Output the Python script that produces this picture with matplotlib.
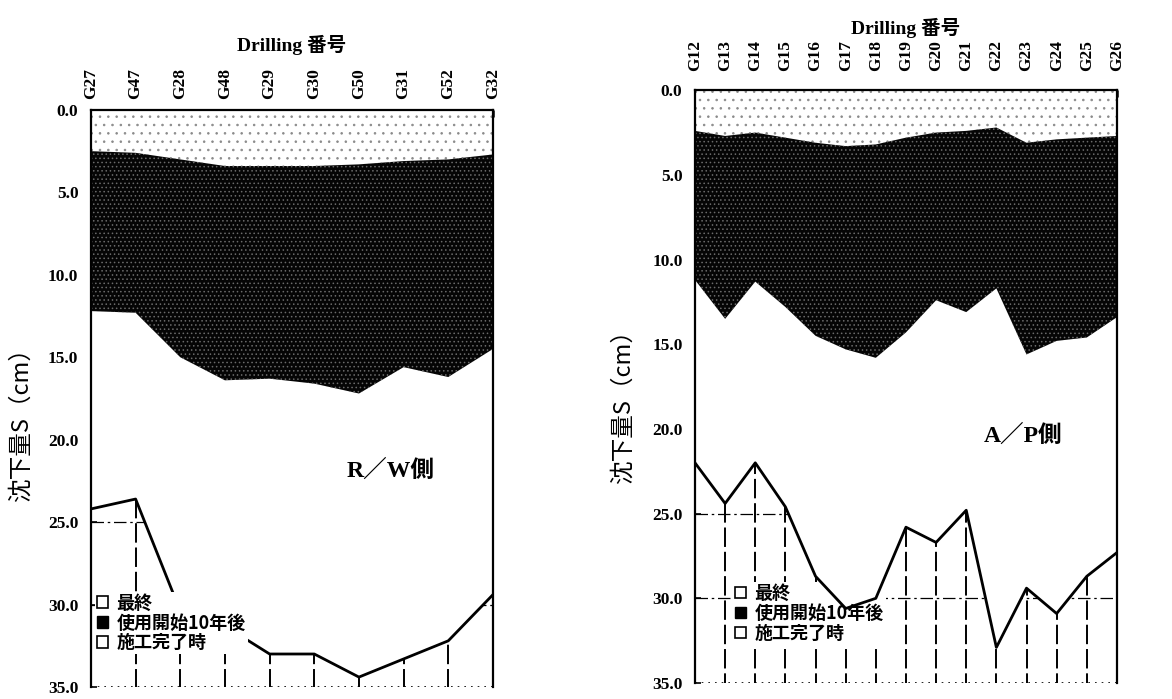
import matplotlib
matplotlib.use('Agg')
import matplotlib.pyplot as plt
from matplotlib.patches import Patch
import numpy as np

plt.rcParams['font.family'] = ['Liberation Serif', 'Noto Sans CJK JP']
plt.rcParams['hatch.linewidth'] = 0.6

# R/W side drilling holes and settlement (cm)
rw_holes = ['G27', 'G47', 'G28', 'G48', 'G29', 'G30', 'G50', 'G31', 'G52', 'G32']
rw_complete = [2.5, 2.6, 3.0, 3.4, 3.4, 3.4, 3.3, 3.1, 3.0, 2.7]
rw_10years = [12.2, 12.3, 15.0, 16.4, 16.3, 16.6, 17.2, 15.6, 16.2, 14.5]
rw_final = [24.2, 23.6, 30.4, 31.3, 33.0, 33.0, 34.4, 33.3, 32.2, 29.4]

# A/P side
ap_holes = ['G12', 'G13', 'G14', 'G15', 'G16', 'G17', 'G18', 'G19',
            'G20', 'G21', 'G22', 'G23', 'G24', 'G25', 'G26']
ap_complete = [2.4, 2.7, 2.5, 2.8, 3.1, 3.3, 3.2, 2.8, 2.5, 2.4, 2.2, 3.1, 2.9, 2.8, 2.7]
ap_10years = [11.2, 13.5, 11.3, 12.8, 14.5, 15.3, 15.8, 14.3, 12.4, 13.1, 11.7, 15.6, 14.8, 14.6, 13.4]
ap_final = [22.0, 24.4, 22.0, 24.6, 28.7, 30.6, 30.0, 25.8, 26.7, 24.8, 32.9, 29.4, 30.9, 28.7, 27.3]

yticks = [0, 5, 10, 15, 20, 25, 30, 35]
legend_labels = ['最終', '使用開始10年後', '施工完了時']
cjk = ['Noto Sans CJK JP', 'DejaVu Sans']


def draw_panel(ax, holes, complete, ten_years, final, side, side_xy, leg_xy, ylab_xy,
               leg_on_top, xpad, title_pad):
    x = np.arange(len(holes))

    # grid lines, only visible below the final settlement line
    ax.vlines(x, 0, 35, colors='black', linestyles=(0, (10, 2.5)), lw=1.4, zorder=1)
    ax.hlines([25, 30], 0, len(holes) - 1, colors='black', linestyles=(0, (10, 3, 2, 3)), lw=0.9, zorder=1)
    ax.hlines(35, 0, len(holes) - 1, colors='black', linestyles=(0, (1, 3)), lw=1.2, zorder=1)

    ax.fill_between(x, 0, final, facecolor='white', lw=0, zorder=2)
    ax.fill_between(x, 0, complete, facecolor='white', edgecolor='#8a8a8a', hatch='..', lw=0, zorder=3)
    ax.fill_between(x, complete, ten_years, facecolor='#050505', edgecolor='#6a6a6a', hatch='....', lw=0, zorder=3)
    ax.plot(x, final, color='black', lw=2.0, zorder=4)

    ax.set_xlim(0, len(holes) - 1)
    ax.set_ylim(35, 0)
    ax.xaxis.tick_top()
    ax.set_xticks(x, holes, rotation=90)
    ax.set_yticks(yticks, ['%.1f' % v for v in yticks])
    ax.tick_params(axis='x', direction='in', length=5, width=1.8, labelsize=12.5, pad=xpad)
    ax.tick_params(axis='y', direction='in', length=4, width=1.2, labelsize=12.5, pad=9)
    for lab in ax.get_xticklabels() + ax.get_yticklabels():
        lab.set_fontweight('bold')
    ax.set_xlabel('Drilling 番号', fontsize=14, fontweight='bold', labelpad=title_pad)
    ax.xaxis.set_label_position('top')
    ax.set_ylabel('沈下量S（cm）', fontsize=17, family=cjk)
    ax.yaxis.set_label_coords(*ylab_xy)

    for s in ['left', 'right', 'top']:
        ax.spines[s].set_linewidth(1.6)
        ax.spines[s].set_zorder(6)
    ax.spines['bottom'].set_visible(False)

    ax.text(side_xy[0], side_xy[1], side, fontsize=17, fontweight='bold',
            ha='center', va='center', zorder=6)

    handles = [Patch(facecolor='white', edgecolor='black', lw=1.2),
               Patch(facecolor='black', edgecolor='black'),
               Patch(facecolor='white', edgecolor='black', lw=1.2)]
    leg = ax.legend(handles, legend_labels, loc='upper left', bbox_to_anchor=leg_xy,
                    prop={'family': cjk, 'size': 13, 'weight': 'bold'},
                    handlelength=0.6, handleheight=0.6, handletextpad=0.5,
                    labelspacing=0.05, borderpad=0.1, borderaxespad=0,
                    frameon=True, fancybox=False)
    leg.get_frame().set_facecolor('white')
    leg.get_frame().set_edgecolor('none')
    leg.get_frame().set_alpha(1)
    leg.set_zorder(5 if leg_on_top else 3.5)


fig = plt.figure(figsize=(11.72, 6.99), dpi=100)
ax1 = fig.add_axes([0.0776, 0.0172, 0.343, 0.8255])
ax2 = fig.add_axes([0.593, 0.0229, 0.360, 0.848])

draw_panel(ax1, rw_holes, rw_complete, rw_10years, rw_final, 'R／W側',
           (6.7, 21.9), (0.01, 0.165), (-0.145, 0.466), True, 8, 12)
draw_panel(ax2, ap_holes, ap_complete, ap_10years, ap_final, 'A／P側',
           (10.9, 20.4), (0.09, 0.17), (-0.142, 0.477), False, 14, 4)

fig.savefig('out.png', dpi=100)
